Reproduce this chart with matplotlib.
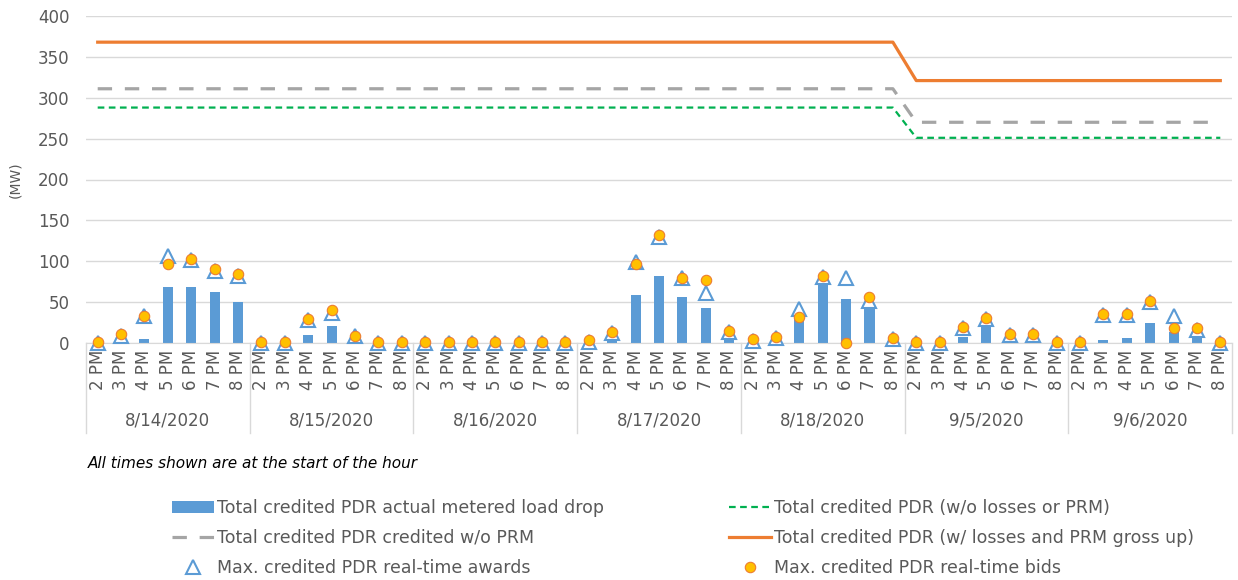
import numpy as np
import matplotlib.pyplot as plt
from matplotlib.transforms import blended_transform_factory

days = ["8/14/2020", "8/15/2020", "8/16/2020", "8/17/2020", "8/18/2020", "9/5/2020", "9/6/2020"]
hours = ["2 PM", "3 PM", "4 PM", "5 PM", "6 PM", "7 PM", "8 PM"]

# actual metered load drop (bars), per day 2PM..8PM
metered = [0, 0, 5, 69, 69, 62, 50,
           0, 0, 10, 21, 3, 0, 0,
           0, 0, 0, 0, 0, 0, 0,
           0, 7, 59, 82, 56, 43, 6,
           0, 2, 33, 75, 54, 45, 3,
           0, 0, 7, 21, 4, 4, 0,
           0, 4, 6, 25, 13, 8, 0]
# max real-time awards (triangles)
awards = [0, 8, 33, 106, 101, 88, 82,
          0, 0, 28, 37, 8, 0, 0,
          0, 0, 0, 0, 0, 0, 0,
          1, 12, 99, 130, 79, 61, 13,
          2, 6, 42, 81, 79, 51, 5,
          0, 0, 18, 29, 10, 10, 0,
          0, 34, 34, 50, 33, 16, 0]
# max real-time bids (circles)
bids = [1, 11, 33, 97, 103, 90, 85,
        1, 1, 29, 40, 9, 1, 1,
        1, 1, 1, 1, 1, 1, 1,
        4, 14, 97, 132, 80, 77, 15,
        5, 7, 32, 82, 0, 56, 6,
        1, 1, 20, 31, 11, 11, 1,
        1, 35, 36, 51, 18, 18, 1]
# credited levels per day
no_losses_day = [288, 288, 288, 288, 288, 251, 251]
no_prm_day = [311, 311, 311, 311, 311, 270, 270]
gross_up_day = [368, 368, 368, 368, 368, 321, 321]

n = len(days) * len(hours)
x = np.arange(n)
no_losses = np.repeat(no_losses_day, len(hours))
no_prm = np.repeat(no_prm_day, len(hours))
gross_up = np.repeat(gross_up_day, len(hours))

txt = "#595959"
fig = plt.figure(figsize=(12.38, 5.8), dpi=100)
ax = fig.add_axes([86 / 1238, 1 - 343 / 580, (1232 - 86) / 1238, 327 / 580])

bar_h = ax.bar(x, metered, width=0.43, color="#5b9bd5", zorder=2,
               label="Total credited PDR actual metered load drop")
l_green, = ax.plot(x, no_losses, color="#00b050", lw=1.6, ls=(0, (3, 2)), zorder=3,
                   label="Total credited PDR (w/o losses or PRM)")
l_gray, = ax.plot(x, no_prm, color="#a5a5a5", lw=2.3, ls=(0, (4.5, 4)), zorder=3,
                  label="Total credited PDR credited w/o PRM")
l_orange, = ax.plot(x, gross_up, color="#ed7d31", lw=2.3, zorder=3,
                    label="Total credited PDR (w/ losses and PRM gross up)")
tri, = ax.plot(x, awards, ls="none", marker="^", ms=10, mfc="white", mec="#5b9bd5",
               mew=1.5, zorder=4, clip_on=False, label="Max. credited PDR real-time awards")
circ, = ax.plot(x, bids, ls="none", marker="o", ms=7.5, mfc="#ffc000", mec="#ed7d31",
                mew=0.8, zorder=5, clip_on=False, label="Max. credited PDR real-time bids")

ax.set_xlim(-0.5, n - 0.5)
ax.set_ylim(0, 400)
ax.set_yticks(range(0, 401, 50))
ax.grid(axis="y", color="#d9d9d9", lw=1, zorder=0)
ax.set_axisbelow(True)
for s in ["top", "right", "left"]:
    ax.spines[s].set_visible(False)
ax.spines["bottom"].set_color("#d9d9d9")
ax.tick_params(axis="y", length=0, pad=12, labelsize=12, labelcolor=txt)
ax.set_xticks(x)
ax.set_xticklabels(hours * len(days), rotation=90, fontsize=12, color=txt)
ax.tick_params(axis="x", length=0, pad=5)
ax.set_ylabel("(MW)", fontsize=10, color=txt, labelpad=11)

tr = blended_transform_factory(ax.transData, ax.transAxes)
for i in range(len(days) + 1):
    ax.plot([i * 7 - 0.5] * 2, [0, -0.275], transform=tr, color="#d9d9d9", lw=1,
            clip_on=False)
for i, d in enumerate(days):
    ax.text(i * 7 + 3, -0.238, d, transform=tr, ha="center", va="center",
            fontsize=12, color=txt)

fig.text(88 / 1238, 1 - 464 / 580, "All times shown are at the start of the hour",
         fontsize=11, style="italic", color="black", va="center")

fig.legend(handles=[bar_h, l_gray, tri, l_green, l_orange, circ], ncol=2,
           loc="upper left", bbox_to_anchor=(172 / 1238, 1 - 499 / 580),
           frameon=False, fontsize=12.5, labelcolor=txt, handlelength=2.4,
           handletextpad=0.2, columnspacing=7.2, labelspacing=0.68,
           borderpad=0, borderaxespad=0)

fig.savefig("out.png", dpi=100)
